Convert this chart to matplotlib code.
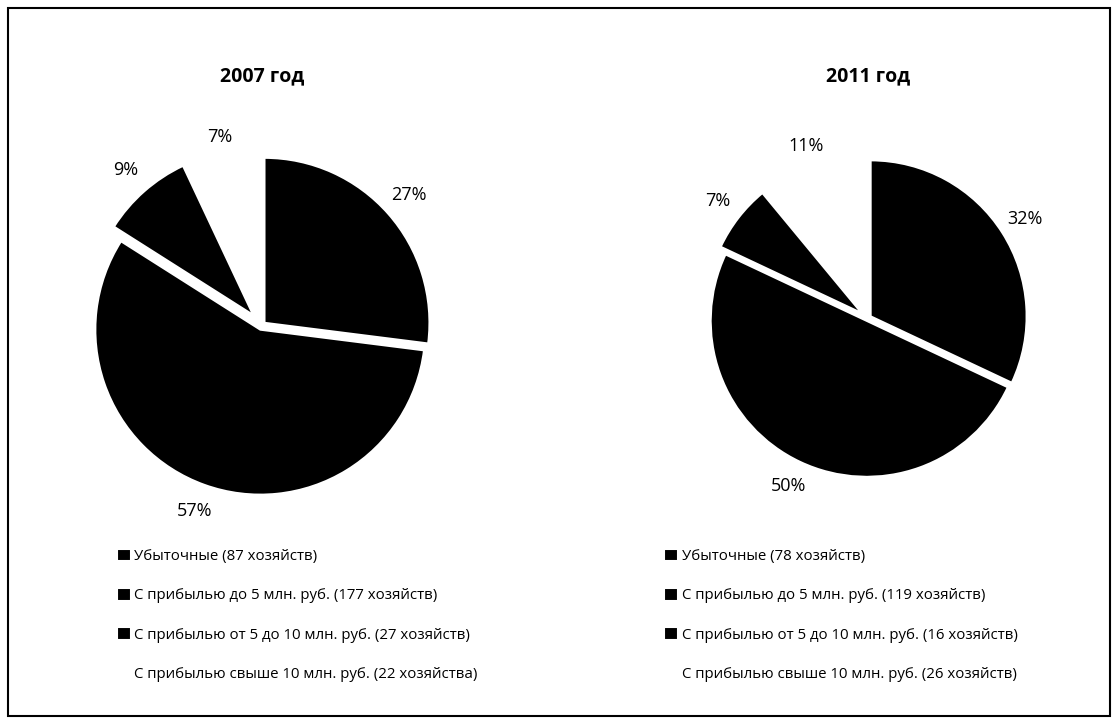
import numpy as np
import matplotlib.pyplot as plt
from matplotlib.patches import Rectangle

plt.rcParams['font.family'] = ['Open Sans', 'DejaVu Sans']

# data (shares in %, as shown on the chart)
years = ['2007 год', '2011 год']
pct_2007 = [27, 57, 9, 7]
pct_2011 = [32, 50, 7, 11]
legend_2007 = ['Убыточные (87 хозяйств)',
               'С прибылью до 5 млн. руб. (177 хозяйств)',
               'С прибылью от 5 до 10 млн. руб. (27 хозяйств)',
               'С прибылью свыше 10 млн. руб. (22 хозяйства)']
legend_2011 = ['Убыточные (78 хозяйств)',
               'С прибылью до 5 млн. руб. (119 хозяйств)',
               'С прибылью от 5 до 10 млн. руб. (16 хозяйств)',
               'С прибылью свыше 10 млн. руб. (26 хозяйств)']
colors = ['black', 'black', 'black', 'white']

W, H = 1118, 724
fig = plt.figure(figsize=(W / 100, H / 100), dpi=100)

# outer frame
fig.patches.append(Rectangle((8 / W, 8 / H), 1 - 16 / W, 1 - 16 / H,
                             transform=fig.transFigure, fill=False,
                             edgecolor='black', linewidth=1.5))


def draw_pie(cx, cy, r, vals, explode, title, leg_labels, leg_x):
    ax = fig.add_axes([(cx - r) / W, 1 - (cy + r) / H, 2 * r / W, 2 * r / H])
    pct = ['%d%%' % v for v in vals]
    wedges, texts = ax.pie(vals, colors=colors, startangle=90,
                           counterclock=False, explode=explode,
                           labels=pct, labeldistance=1.17,
                           wedgeprops=dict(edgecolor='white', linewidth=1.5),
                           textprops=dict(fontsize=13))
    for t in texts:
        t.set_ha('center')
        t.set_va('center')
    ax.set_xlim(-1, 1)
    ax.set_ylim(-1, 1)
    ax.set_aspect('equal')
    fig.text(cx / W, 1 - 76 / H, title, ha='center', va='center',
             fontsize=14, fontweight='bold')
    fig.legend(wedges, leg_labels, loc='upper left',
               bbox_to_anchor=(leg_x / W, 1 - 535 / H), frameon=False,
               fontsize=10.8, handlelength=0.95, handleheight=0.95,
               handletextpad=0.25, labelspacing=1.58)


draw_pie(262, 325, 165, pct_2007, [0.02, 0.03, 0.08, 0],
         years[0], legend_2007, 103)
draw_pie(868, 318, 156, pct_2011, [0.02, 0.02, 0.05, 0],
         years[1], legend_2011, 650)

fig.savefig('out.png', dpi=100)
